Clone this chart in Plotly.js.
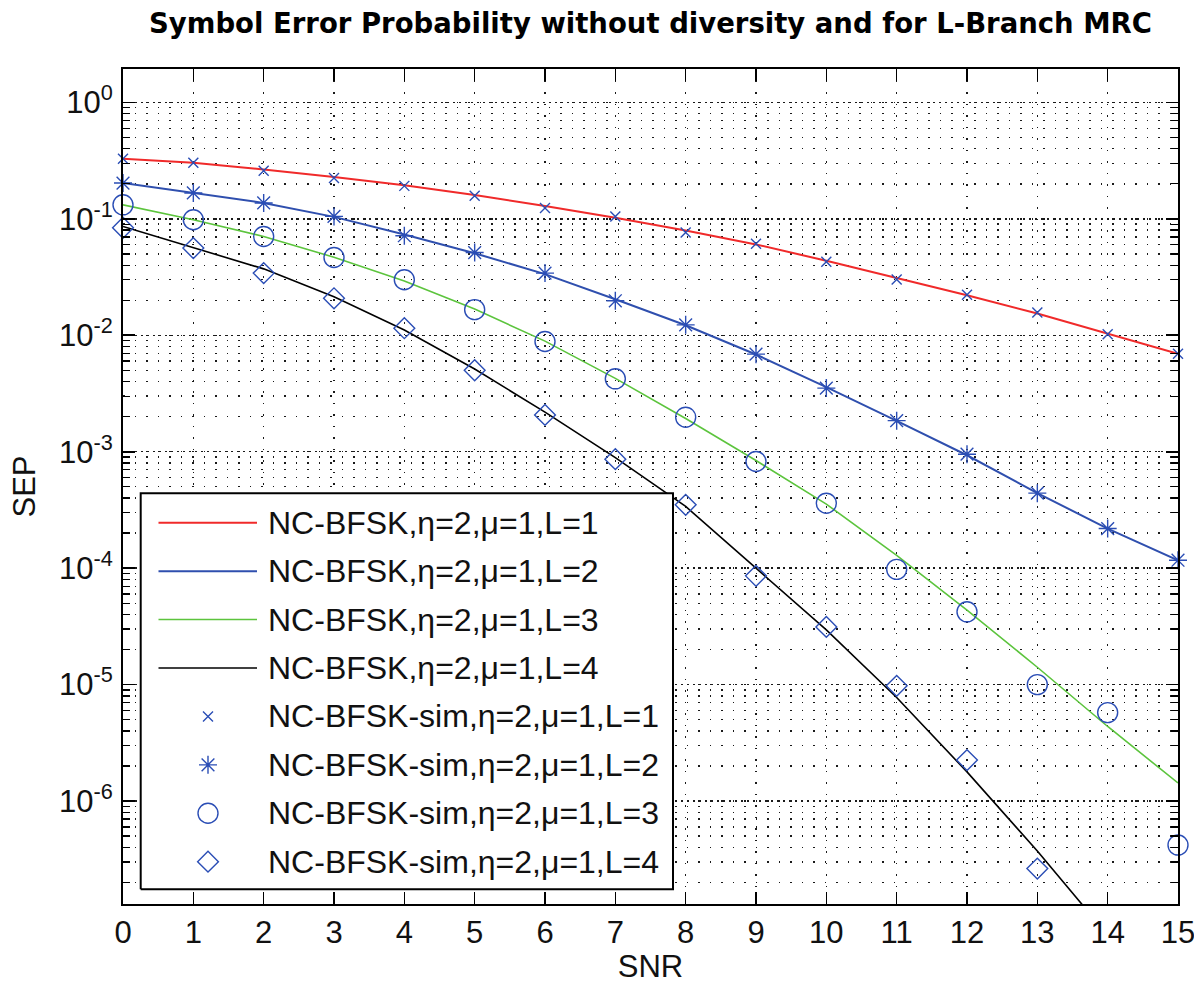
<!DOCTYPE html>
<html>
<head>
<meta charset="utf-8">
<script src="https://cdn.plot.ly/plotly-3.0.1.min.js"></script>
<style>
  html, body { margin: 0; padding: 0; background: #fff; }
  #chart { width: 1194px; height: 984px; }
</style>
</head>
<body>
<div id="chart"></div>
<script>
// ---------------- data ----------------
const snr = [0, 1, 2, 3, 4, 5, 6, 7, 8, 9, 10, 11, 12, 13, 14, 15];

// theoretical curves (NC-BFSK, eta=2, mu=1)
const sepL1 = [0.328, 0.303, 0.266, 0.229, 0.194, 0.160, 0.129, 0.102, 0.0794, 0.0603, 0.0437, 0.0313, 0.0221, 0.0154, 0.0104, 0.00693];
const sepL2 = [0.203, 0.167, 0.137, 0.104, 0.0733, 0.0507, 0.0335, 0.0204, 0.0122, 0.00684, 0.00359, 0.00184, 0.000933, 0.000441, 0.000219, 0.000117];
const sepL3 = [0.132, 0.0982, 0.0706, 0.0468, 0.0292, 0.0168, 0.00891, 0.00427, 0.00193, 0.000841, 0.000355, 0.000129, 4.37e-5, 1.41e-5, 4.37e-6, 1.43e-6];
const sepL4 = [0.0861, 0.0562, 0.0372, 0.0214, 0.0111, 0.00513, 0.00219, 0.000891, 0.000339, 1.0e-4, 2.95e-5, 7.76e-6, 1.78e-6, 3.72e-7, 7.08e-8, 1.26e-8];

// simulated points
const simL1 = [0.328, 0.303, 0.259, 0.224, 0.192, 0.158, 0.124, 0.105, 0.0764, 0.0611, 0.0428, 0.0302, 0.0223, 0.0157, 0.0102, 0.00694];
const simL2 = [0.203, 0.167, 0.137, 0.105, 0.0716, 0.0514, 0.0342, 0.0198, 0.0123, 0.00689, 0.00352, 0.00185, 0.000953, 0.000441, 0.000219, 0.000117];
const simL3 = [0.132, 0.0982, 0.0706, 0.0466, 0.0300, 0.0166, 0.00885, 0.00423, 0.00198, 0.000824, 0.000361, 9.77e-5, 4.22e-5, 1.0e-5, 5.75e-6, 4.19e-7];
const simL4 = [0.0839, 0.0561, 0.0342, 0.0208, 0.0115, 0.00501, 0.00207, 0.000863, 0.00035, 8.59e-5, 3.13e-5, 9.77e-6, 2.25e-6, 2.63e-7, null, null];

const theoryLabels = ['NC-BFSK,\u03B7=2,\u03BC=1,L=1', 'NC-BFSK,\u03B7=2,\u03BC=1,L=2', 'NC-BFSK,\u03B7=2,\u03BC=1,L=3', 'NC-BFSK,\u03B7=2,\u03BC=1,L=4'];
const simLabels = ['NC-BFSK-sim,\u03B7=2,\u03BC=1,L=1', 'NC-BFSK-sim,\u03B7=2,\u03BC=1,L=2', 'NC-BFSK-sim,\u03B7=2,\u03BC=1,L=3', 'NC-BFSK-sim,\u03B7=2,\u03BC=1,L=4'];

const xTickVals = [0, 1, 2, 3, 4, 5, 6, 7, 8, 9, 10, 11, 12, 13, 14, 15];
const yTickVals = [1, 0.1, 0.01, 0.001, 1e-4, 1e-5, 1e-6];
const yTickText = ['10<sup>0</sup>', '10<sup>-1</sup>', '10<sup>-2</sup>', '10<sup>-3</sup>', '10<sup>-4</sup>', '10<sup>-5</sup>', '10<sup>-6</sup>'];

const titleText = 'Symbol Error Probability without diversity and for L-Branch MRC';
const xTitle = 'SNR';
const yTitle = 'SEP';

// ---------------- styles ----------------
const FONT = 'Liberation Sans, Arial, Helvetica, sans-serif';
const TITLE_FONT = 'DejaVu Sans, Liberation Sans, sans-serif';
const lineColors = ['#f02a2a', '#2f4fae', '#5cc43d', '#000000'];
const lineWidths = [2, 2, 1.6, 1.6];
const markBlue = '#2a4db5';
const markSymbols = ['x-thin-open', 'asterisk-open', 'circle-open', 'diamond-open'];
const markSizes = [10, 15, 20, 16];

const theory = [sepL1, sepL2, sepL3, sepL4];
const sims = [simL1, simL2, simL3, simL4];

const traces = [];
theory.forEach((ys, i) => {
  traces.push({
    x: snr, y: ys, type: 'scatter', mode: 'lines', name: theoryLabels[i],
    line: { color: lineColors[i], width: lineWidths[i] }, hoverinfo: 'skip'
  });
});
sims.forEach((ys, i) => {
  traces.push({
    x: snr, y: ys, type: 'scatter', mode: 'markers', name: simLabels[i],
    cliponaxis: false,
    marker: { symbol: markSymbols[i], size: markSizes[i], color: markBlue, line: { color: markBlue, width: 1.4 } },
    hoverinfo: 'skip'
  });
});

// ---------------- custom MATLAB-style legend (overlay axes in plot fractions) ----------------
const M = { l: 123, r: 16, t: 69, b: 80 };
const W = 1194, H = 984;
const PW = W - M.l - M.r, PH = H - M.t - M.b;
const fx = p => (p - M.l) / PW;
const fy = p => (H - M.b - p) / PH;

const LEG = { left: 140.7, right: 673, top: 493.3, bottom: 889.3, row0: 522.7, rowStep: 48.43,
              lineFrom: 158.5, lineTo: 257, markAt: 208, textAt: 266 };

traces.push({
  x: [fx(LEG.left), fx(LEG.right), fx(LEG.right), fx(LEG.left), fx(LEG.left)],
  y: [fy(LEG.bottom), fy(LEG.bottom), fy(LEG.top), fy(LEG.top), fy(LEG.bottom)],
  xaxis: 'x2', yaxis: 'y2', type: 'scatter', mode: 'lines', fill: 'toself',
  fillcolor: '#ffffff', line: { color: '#000', width: 2 }, hoverinfo: 'skip', showlegend: false
});
const annotations = [];
const allLabels = theoryLabels.concat(simLabels);
allLabels.forEach((lab, k) => {
  const ry = fy(LEG.row0 + k * LEG.rowStep);
  if (k < 4) {
    traces.push({
      x: [fx(LEG.lineFrom), fx(LEG.lineTo)], y: [ry, ry], xaxis: 'x2', yaxis: 'y2',
      type: 'scatter', mode: 'lines', line: { color: lineColors[k], width: lineWidths[k] },
      hoverinfo: 'skip', showlegend: false
    });
  } else {
    const i = k - 4;
    traces.push({
      x: [fx(LEG.markAt)], y: [ry], xaxis: 'x2', yaxis: 'y2', type: 'scatter', mode: 'markers',
      marker: { symbol: markSymbols[i], size: markSizes[i], color: markBlue, line: { color: markBlue, width: 1.4 } },
      hoverinfo: 'skip', showlegend: false
    });
  }
  annotations.push({
    xref: 'paper', yref: 'paper', x: fx(LEG.textAt), y: ry, xanchor: 'left', yanchor: 'middle',
    text: lab, showarrow: false, font: { family: FONT, size: 32, color: '#111' }
  });
});

const gridCol = '#1a1a1a';
const layout = {
  width: W, height: H,
  margin: M,
  paper_bgcolor: '#fff', plot_bgcolor: '#fff',
  showlegend: false,
  font: { family: FONT, size: 31, color: '#111' },
  title: {
    text: '<b>' + titleText + '</b>', x: 0.5, xref: 'paper', xanchor: 'center',
    y: 1 - 23 / H, yref: 'container', yanchor: 'middle',
    font: { family: TITLE_FONT, size: 27.5, color: '#000' }
  },
  xaxis: {
    range: [0, 15], tickvals: xTickVals, ticktext: xTickVals.map(String),
    ticks: 'inside', ticklen: 12, tickwidth: 1.6, tickcolor: '#000',
    showline: true, linewidth: 2, linecolor: '#000', mirror: 'allticks',
    showgrid: true, gridcolor: gridCol, gridwidth: 1.4, griddash: '1.5px,10px',
    zeroline: false, ticklabelstandoff: 0, ticklabeloverflow: 'allow',
    tickfont: { family: FONT, size: 31, color: '#111' },
    title: { text: xTitle, font: { family: FONT, size: 31, color: '#111' }, standoff: 27 }
  },
  yaxis: {
    type: 'log', range: [-6.884, 0.287], tickvals: yTickVals, ticktext: yTickText,
    ticks: 'inside', ticklen: 12, tickwidth: 1.6, tickcolor: '#000',
    showline: true, linewidth: 2, linecolor: '#000', mirror: 'allticks',
    showgrid: true, gridcolor: gridCol, gridwidth: 1.4, griddash: '1.5px,4.5px',
    zeroline: false, ticklabelstandoff: 2, ticklabeloverflow: 'allow',
    minor: { dtick: 'D1', ticks: 'inside', ticklen: 7, tickwidth: 1.3, tickcolor: '#000',
             showgrid: true, gridcolor: gridCol, gridwidth: 1.4, griddash: '1.5px,10px' },
    tickfont: { family: FONT, size: 31, color: '#111' },
    title: { text: yTitle, font: { family: FONT, size: 31, color: '#111' }, standoff: 14 }
  },
  xaxis2: { overlaying: 'x', range: [0, 1], visible: false, fixedrange: true },
  yaxis2: { overlaying: 'y', range: [0, 1], visible: false, fixedrange: true },
  annotations: annotations
};

Plotly.newPlot('chart', traces, layout, { staticPlot: true, displayModeBar: false });
</script>
</body>
</html>
